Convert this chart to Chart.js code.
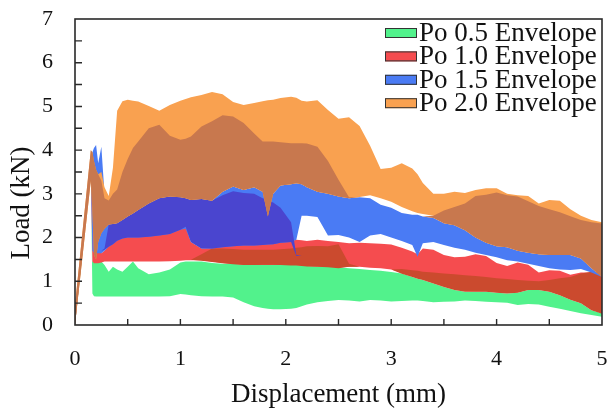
<!DOCTYPE html>
<html>
<head>
<meta charset="utf-8">
<script src="https://cdn.jsdelivr.net/npm/chart.js@4.4.0/dist/chart.umd.min.js"></script>
<style>html,body{margin:0;padding:0;background:#fff}canvas{display:block}</style>
</head>
<body>
<canvas id="c" width="610" height="414" style="width:610px;height:414px"></canvas>
<script>
const SERIF = "'Liberation Serif', 'Times New Roman', 'DejaVu Serif', serif";

// shared displacement grid (mm)
const X = [0, 0.15, 0.165, 0.18, 0.2, 0.22, 0.25, 0.28,
  0.32, 0.36, 0.4, 0.45, 0.5, 0.55, 0.6, 0.7,
  0.8, 0.9, 1.0, 1.05, 1.1, 1.2, 1.3, 1.4,
  1.5, 1.6, 1.7, 1.78, 1.83, 1.88, 1.95, 2.05,
  2.1, 2.15, 2.2, 2.3, 2.4, 2.5, 2.6, 2.7,
  2.8, 2.9, 3.0, 3.1, 3.2, 3.25, 3.3, 3.4,
  3.5, 3.6, 3.7, 3.8, 3.9, 4.0, 4.1, 4.2,
  4.3, 4.4, 4.5, 4.6, 4.7, 4.8, 4.9, 5.0];

// Po 0.5 envelope (green)
const greenLo = [0, 3.5, 0.72, 0.66, 0.65, 0.65, 0.65, 0.65,
  0.65, 0.65, 0.65, 0.65, 0.65, 0.65, 0.65, 0.65,
  0.65, 0.66, 0.71, 0.70, 0.68, 0.66, 0.65, 0.65,
  0.63, 0.52, 0.43, 0.39, 0.37, 0.36, 0.36, 0.37,
  0.39, 0.43, 0.47, 0.52, 0.55, 0.57, 0.56, 0.54,
  0.57, 0.56, 0.54, 0.55, 0.56, 0.56, 0.55, 0.52,
  0.53, 0.54, 0.56, 0.55, 0.53, 0.52, 0.51, 0.46,
  0.48, 0.47, 0.42, 0.37, 0.32, 0.27, 0.23, 0.19];
const greenHi = [0.1, 3.6, 1.45, 1.45, 1.45, 1.45, 1.45, 1.37,
  1.22, 1.33, 1.27, 1.22, 1.33, 1.45, 1.3, 1.16,
  1.2, 1.27, 1.43, 1.45, 1.45, 1.45, 1.42, 1.4,
  1.4, 1.38, 1.37, 1.37, 1.37, 1.37, 1.37, 1.37,
  1.37, 1.36, 1.35, 1.34, 1.33, 1.32, 1.3, 1.28,
  1.26, 1.24, 1.21, 1.18, 1.1, 1.06, 1.03, 0.95,
  0.87, 0.8, 0.76, 0.76, 0.76, 0.74, 0.72, 0.74,
  0.8, 0.8, 0.76, 0.68, 0.58, 0.5, 0.34, 0.27];

// Po 1.0 envelope (red)
const redLo = [0, 3.55, 1.45, 1.41, 1.41, 1.41, 1.43, 1.45,
  1.45, 1.45, 1.45, 1.45, 1.45, 1.45, 1.45, 1.45,
  1.45, 1.46, 1.47, 1.48, 1.48, 1.48, 1.45, 1.42,
  1.4, 1.38, 1.37, 1.37, 1.37, 1.37, 1.37, 1.37,
  1.37, 1.36, 1.35, 1.34, 1.33, 1.32, 1.33, 1.33,
  1.31, 1.3, 1.27, 1.2, 1.15, 1.1, 1.06, 0.98,
  0.9, 0.83, 0.78, 0.77, 0.77, 0.75, 0.73, 0.75,
  0.81, 0.81, 0.77, 0.69, 0.59, 0.51, 0.35, 0.28];
const redHi = [0.1, 3.65, 3.9, 3.0, 2.0, 1.75, 1.64, 1.7,
  1.8, 1.87, 1.95, 2.0, 2.02, 2.02, 2.02, 2.04,
  2.07, 2.1, 2.2, 2.27, 1.9, 1.75, 1.76, 1.8,
  1.85, 1.92, 1.95, 1.93, 1.9, 1.88, 1.9, 1.93,
  1.95, 1.94, 1.92, 1.95, 1.92, 1.9, 1.87, 1.88,
  1.87, 1.86, 1.84, 1.77, 1.68, 1.62, 1.75, 1.72,
  1.6, 1.55, 1.56, 1.62, 1.58, 1.42, 1.35, 1.43,
  1.38, 1.2, 1.25, 1.24, 1.15, 1.2, 1.2, 1.1];

// darker overlap zone inside the red envelope
const darkLo = [0, 3.55, 1.45, 1.45, 1.45, 1.45, 1.45, 1.45,
  1.45, 1.45, 1.45, 1.45, 1.45, 1.45, 1.45, 1.45,
  1.45, 1.46, 1.47, 1.48, 1.49, 1.47, 1.44, 1.41,
  1.39, 1.37, 1.37, 1.38, 1.38, 1.38, 1.37, 1.36,
  1.36, 1.35, 1.34, 1.33, 1.32, 1.3, 1.33, 1.33,
  1.31, 1.3, 1.27, 1.17, 1.1, 1.06, 1.03, 0.95,
  0.87, 0.8, 0.76, 0.76, 0.76, 0.74, 0.72, 0.74,
  0.8, 0.8, 0.76, 0.68, 0.58, 0.5, 0.34, 0.26];
const darkHi = [0, 3.55, 1.45, 1.45, 1.45, 1.45, 1.45, 1.45,
  1.45, 1.45, 1.45, 1.45, 1.45, 1.45, 1.45, 1.45,
  1.45, 1.46, 1.47, 1.48, 1.49, 1.62, 1.75, 1.75,
  1.74, 1.72, 1.72, 1.72, 1.72, 1.72, 1.73, 1.75,
  1.77, 1.78, 1.8, 1.81, 1.8, 1.85, 1.4, 1.33,
  1.31, 1.3, 1.27, 1.28, 1.25, 1.24, 1.22, 1.2,
  1.18, 1.16, 1.14, 1.12, 1.1, 1.07, 1.05, 1.03,
  1.01, 1.0, 1.03, 1.07, 1.1, 1.18, 1.22, 1.22];

// Po 1.5 envelope (blue)
const blueLo = [0, 3.55, 1.7, 1.65, 1.64, 1.64, 1.64, 1.7,
  1.79, 1.85, 1.93, 1.98, 2.0, 2.0, 2.0, 2.02,
  2.05, 2.08, 2.18, 2.2, 1.9, 1.75, 1.75, 1.78,
  1.8, 1.82, 1.82, 1.83, 1.84, 1.85, 1.88, 1.9,
  1.95, 2.5, 2.5, 2.47, 2.05, 2.06, 2.0, 1.9,
  2.05, 2.08, 2.0, 1.92, 1.83, 1.56, 1.87, 1.9,
  1.83, 1.77, 1.72, 1.65, 1.6, 1.55, 1.48, 1.45,
  1.4, 1.35, 1.3, 1.27, 1.26, 1.28, 1.2, 1.1];
const blueHi = [0.1, 3.65, 3.95, 4.05, 4.12, 3.7, 4.08, 3.0,
  2.3, 2.31, 2.33, 2.4, 2.48, 2.55, 2.63, 2.78,
  2.9, 2.94, 2.92, 2.9, 2.86, 2.88, 2.84, 3.05,
  3.17, 3.09, 3.15, 3.05, 3.1, 3.0, 3.19, 3.22,
  3.24, 3.22, 3.15, 3.05, 3.0, 2.94, 2.9, 2.92,
  2.9, 2.75, 2.68, 2.56, 2.52, 2.52, 2.48, 2.45,
  2.33, 2.28, 2.17, 2.0, 1.88, 1.8, 1.78, 1.7,
  1.65, 1.62, 1.6, 1.6, 1.6, 1.52, 1.3, 1.1];

// darker overlap zone inside the blue envelope
const purpleLo = [0, 3.55, 1.7, 1.7, 1.7, 1.7, 1.7, 1.72,
  1.79, 1.85, 1.93, 1.98, 2.0, 2.0, 2.0, 2.02,
  2.05, 2.08, 2.18, 2.25, 1.9, 1.75, 1.75, 1.78,
  1.8, 1.82, 1.82, 1.83, 1.84, 1.85, 1.88, 1.9,
  1.58, 1.6, 1.6, 1.6, 1.6, 1.6, 1.6, 1.6,
  1.6, 1.6, 1.6, 1.6, 1.6, 1.6, 1.6, 1.6,
  1.6, 1.6, 1.6, 1.6, 1.6, 1.6, 1.6, 1.6,
  1.6, 1.6, 1.6, 1.6, 1.6, 1.6, 1.6, 1.6];
const purpleHi = [0, 3.55, 1.7, 1.7, 1.7, 1.7, 1.7, 1.75,
  2.3, 2.31, 2.33, 2.4, 2.48, 2.55, 2.63, 2.78,
  2.9, 2.94, 2.92, 2.9, 2.86, 2.88, 2.84, 2.97,
  3.06, 3.02, 3.0, 2.9, 2.85, 2.8, 2.68, 2.35,
  1.6, 1.6, 1.6, 1.6, 1.6, 1.6, 1.6, 1.6,
  1.6, 1.6, 1.6, 1.6, 1.6, 1.6, 1.6, 1.6,
  1.6, 1.6, 1.6, 1.6, 1.6, 1.6, 1.6, 1.6,
  1.6, 1.6, 1.6, 1.6, 1.6, 1.6, 1.6, 1.6];

// Po 2.0 envelope (orange)
const orangeLo = [0, 3.3, 2.6, 1.6, 1.5, 1.9, 2.1, 2.2,
  2.3, 2.31, 2.33, 2.4, 2.48, 2.55, 2.63, 2.78,
  2.9, 2.94, 2.92, 2.9, 2.86, 2.88, 2.84, 3.05,
  3.17, 3.09, 3.15, 3.05, 2.48, 3.0, 3.19, 3.22,
  3.24, 3.22, 3.15, 3.05, 3.0, 2.94, 2.9, 2.93,
  2.97, 2.9, 2.82, 2.7, 2.6, 2.56, 2.54, 2.5,
  2.33, 2.28, 2.17, 2.0, 1.88, 1.8, 1.78, 1.7,
  1.65, 1.62, 1.6, 1.6, 1.6, 1.52, 1.3, 1.1];
const orangeHi = [0.45, 4.0, 3.95, 3.75, 3.55, 3.45, 3.5, 3.15,
  2.95, 3.6, 4.9, 5.12, 5.15, 5.13, 5.11, 5.01,
  4.9, 5.03, 5.13, 5.17, 5.21, 5.26, 5.33, 5.28,
  5.1, 5.03, 5.08, 5.12, 5.14, 5.15, 5.19, 5.22,
  5.2, 5.13, 5.11, 5.14, 4.92, 4.72, 4.75, 4.55,
  4.1, 3.57, 3.6, 3.7, 3.58, 3.45, 3.25, 3.0,
  3.0, 3.05, 3.02, 3.09, 3.13, 3.13, 3.0, 2.97,
  2.95, 2.78, 2.86, 2.84, 2.65, 2.5, 2.4, 2.35];

// darker overlap zone inside the orange envelope
const brownLo = [0, 3.3, 2.6, 1.6, 1.5, 1.9, 2.1, 2.2,
  2.3, 2.31, 2.33, 2.4, 2.48, 2.55, 2.63, 2.78,
  2.9, 2.94, 2.92, 2.9, 2.86, 2.88, 2.84, 3.05,
  3.17, 3.09, 3.15, 3.05, 2.48, 3.0, 3.19, 3.22,
  3.24, 3.22, 3.15, 3.05, 3.0, 2.94, 2.9, 2.92,
  2.9, 2.75, 2.68, 2.56, 2.52, 2.52, 2.48, 2.45,
  2.33, 2.28, 2.17, 2.0, 1.88, 1.8, 1.78, 1.7,
  1.65, 1.62, 1.6, 1.6, 1.6, 1.52, 1.3, 1.1];
const brownHi = [0.45, 4.0, 3.95, 3.75, 3.55, 3.45, 3.3, 2.9,
  2.85, 3.0, 3.1, 3.5, 3.8, 4.05, 4.2, 4.5,
  4.58, 4.33, 4.24, 4.26, 4.31, 4.54, 4.66, 4.8,
  4.77, 4.62, 4.38, 4.2, 4.2, 4.2, 4.18, 4.16,
  4.16, 4.16, 4.15, 4.08, 3.75, 3.32, 2.92, 2.92,
  2.9, 2.75, 2.68, 2.56, 2.52, 2.52, 2.48, 2.5,
  2.62, 2.7, 2.78, 2.95, 2.98, 3.03, 2.97, 2.94,
  2.83, 2.72, 2.65, 2.58, 2.49, 2.4, 2.35, 2.32];

const legendLabels = ['Po 0.5 Envelope', 'Po 1.0 Envelope', 'Po 1.5 Envelope', 'Po 2.0 Envelope'];
const xTitle = 'Displacement (mm)';
const yTitle = 'Load (kN)';

const GREEN = '#52f28c', RED = '#f54c4f', DARKRED = '#cb4a2e', BLUE = '#4a7bf4',
      PURPLE = '#4a45cf', ORANGE = '#f9a150', BROWN = '#c8784e';
const legendColors = [GREEN, RED, BLUE, ORANGE];

// layers from back to front
const bands = [
  {lo: greenLo, hi: greenHi, color: GREEN},
  {lo: redLo, hi: redHi, color: RED},
  {lo: darkLo, hi: darkHi, color: DARKRED},
  {lo: blueLo, hi: blueHi, color: BLUE},
  {lo: purpleLo, hi: purpleHi, color: PURPLE},
  {lo: orangeLo, hi: orangeHi, color: ORANGE},
  {lo: brownLo, hi: brownHi, color: BROWN}
];

const datasets = [];
bands.forEach((b, i) => {
  const loIdx = datasets.length;
  datasets.push({
    data: X.map((x, k) => ({x: x, y: b.lo[k]})),
    borderWidth: 0, pointRadius: 0, fill: false, order: 100 - i * 2
  });
  datasets.push({
    data: X.map((x, k) => ({x: x, y: b.hi[k]})),
    borderWidth: 0, pointRadius: 0, backgroundColor: b.color,
    fill: {target: loIdx}, order: 99 - i * 2
  });
});

const framePlugin = {
  id: 'frameTicks',
  afterDatasetsDraw(chart) {
    const {ctx, chartArea: a, scales: {x, y}} = chart;
    ctx.save();
    ctx.strokeStyle = '#2a2a2a';
    ctx.lineWidth = 1.6;
    ctx.strokeRect(a.left, a.top, a.right - a.left, a.bottom - a.top);
    ctx.lineWidth = 1.4;
    ctx.beginPath();
    x.ticks.forEach(t => {
      if (t.value <= x.min || t.value >= x.max) return;
      const px = x.getPixelForValue(t.value);
      ctx.moveTo(px, a.bottom); ctx.lineTo(px, a.bottom - 6);
    });
    y.ticks.forEach(t => {
      if (t.value <= y.min || t.value >= y.max) return;
      const py = y.getPixelForValue(t.value);
      ctx.moveTo(a.left, py); ctx.lineTo(a.left + 7, py);
    });
    ctx.stroke();
    ctx.restore();
  },
  afterDraw(chart) {
    const ctx = chart.ctx;
    ctx.save();
    ctx.fillStyle = '#111';
    ctx.font = '27px ' + SERIF;
    ctx.textAlign = 'center';
    ctx.textBaseline = 'middle';
    ctx.translate(22, 203);
    ctx.rotate(-Math.PI / 2);
    ctx.fillText(yTitle, 0, 0);
    ctx.restore();
    ctx.save();
    ctx.font = '27px ' + SERIF;
    ctx.textAlign = 'left';
    ctx.textBaseline = 'middle';
    legendLabels.forEach((lab, i) => {
      const cy = 33 + i * 23.4;
      ctx.fillStyle = legendColors[i];
      ctx.fillRect(385, cy - 5, 32, 10);
      ctx.strokeStyle = '#333';
      ctx.lineWidth = 1;
      ctx.strokeRect(385.5, cy - 4.5, 31, 9);
      ctx.fillStyle = '#111';
      ctx.fillText(lab, 419, cy + 1);
    });
    ctx.restore();
  }
};

new Chart(document.getElementById('c'), {
  type: 'line',
  data: {datasets: datasets},
  plugins: [framePlugin],
  options: {
    responsive: false,
    animation: false,
    devicePixelRatio: 1,
    layout: {padding: {left: 0, right: 8, top: 19, bottom: 0}},
    plugins: {legend: {display: false}, tooltip: {enabled: false}},
    elements: {line: {tension: 0, borderWidth: 0}, point: {radius: 0}},
    scales: {
      x: {
        type: 'linear', min: 0, max: 5,
        ticks: {stepSize: 0.5, autoSkip: false, maxRotation: 0, padding: 0, color: '#111',
          font: {family: SERIF, size: 22},
          callback: v => Number.isInteger(v) ? String(v) : ''},
        grid: {display: false, drawTicks: true, tickLength: 21},
        border: {display: false},
        title: {display: true, text: xTitle, color: '#111', font: {family: SERIF, size: 27},
          padding: {top: 0, bottom: 3}},
        afterFit: s => { s.height = 89; }
      },
      y: {
        type: 'linear', min: 0, max: 7,
        ticks: {stepSize: 0.5, autoSkip: false, padding: 0, color: '#111',
          font: {family: SERIF, size: 22},
          callback: v => Number.isInteger(v) ? String(v) : ''},
        grid: {display: false, drawTicks: true, tickLength: 22},
        border: {display: false},
        afterFit: s => { s.width = 75; }
      }
    }
  }
});
</script>
</body>
</html>
